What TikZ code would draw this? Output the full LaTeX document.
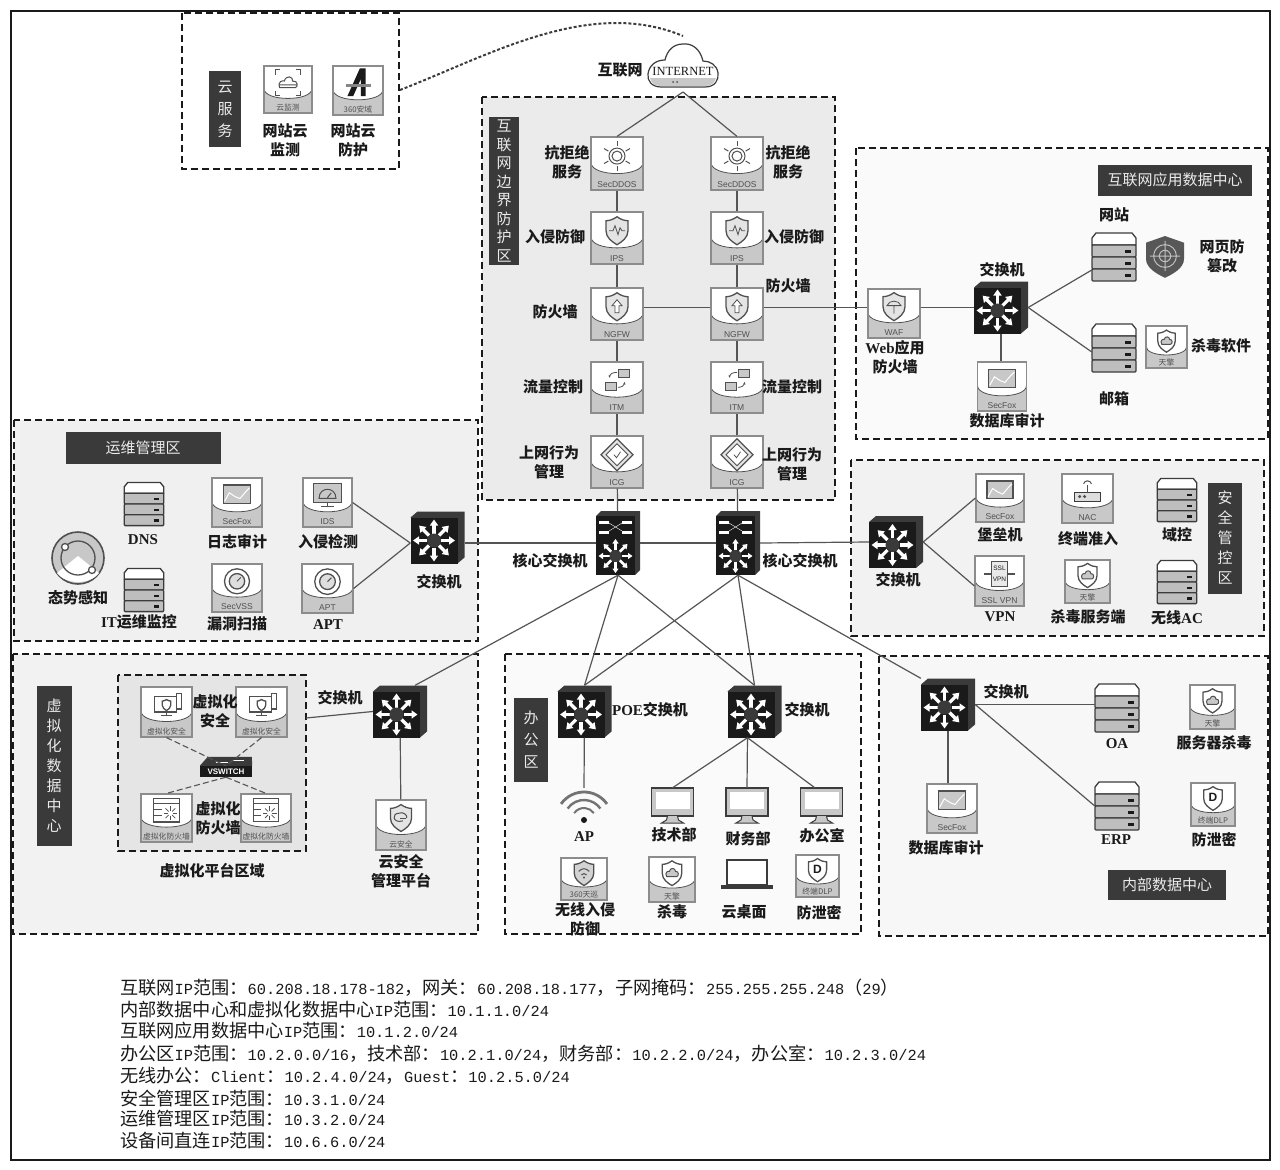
\documentclass[tikz,border=0pt]{standalone}
\usepackage{fontspec}
\usetikzlibrary{arrows.meta, positioning, calc}
\newfontfamily\cjk{Noto Sans CJK SC}
\newfontfamily\latmono{Liberation Mono}
\newfontfamily\latsans{Liberation Sans}
\newfontfamily\latserif{Liberation Serif}
\definecolor{inkblack}{RGB}{26,26,26}
\definecolor{boxdark}{RGB}{58,58,58}
\definecolor{wiregray}{RGB}{85,85,85}
\definecolor{rimgray}{RGB}{140,140,140}
\definecolor{tagfill}{RGB}{200,200,200}
\definecolor{glyphgray}{RGB}{80,80,80}
\definecolor{srvgray}{RGB}{190,190,190}
\newcommand{\ls}[1]{{\latserif\bfseries #1}}
\newcommand{\cj}[1]{{\cjk\fontsize{18.18}{20}\selectfont #1}}
\newcommand{\shieldshape}{(0,-14) .. controls (-4,-11) and (-8,-10) .. (-11,-10) -- (-11,0)
    .. controls (-11,7) and (-5,11) .. (0,14) .. controls (5,11) and (11,7) .. (11,0)
    -- (11,-10) .. controls (8,-10) and (4,-11) .. (0,-14) -- cycle}
\tikzset{
    % dashed area around a group of devices
    zone/.style={draw=inkblack, line width=1.2pt, dash pattern=on 7pt off 4pt},
    % dark title plate of an area
    plate/.style={fill=boxdark, text=white!92!black, inner sep=0pt, align=center,
        font=\cjk\fontsize{15}{#1}\selectfont},
    plate/.default=19,
    % bold device caption
    lab/.style={inner sep=0pt, align=center, text=inkblack,
        font=\cjk\bfseries\fontsize{15}{19}\selectfont},
    % wires between devices
    link/.style={draw=wiregray, line width=1.2pt},
    vlink/.style={draw=wiregray, line width=1.1pt, dash pattern=on 6pt off 3pt},
    glyph/.style={draw=glyphgray, line width=1pt},
    hw/.style={draw=inkblack!85, line width=1.3pt},
    spot/.style={inner sep=0pt},
    tagtext/.style={inner sep=0pt, text=glyphgray, font=\latsans\fontsize{8.5}{9}\selectfont},
    % product badge: white head on a grey foot
    badge/.style={draw=rimgray, line width=1.2pt, fill=tagfill, inner sep=0pt, path picture={
        \coordinate (nw) at (path picture bounding box.north west);
        \coordinate (ne) at (path picture bounding box.north east);
        \coordinate (sw) at (path picture bounding box.south west);
        \coordinate (se) at (path picture bounding box.south east);
        \draw[fill=white, draw=glyphgray, line width=0.8pt] (nw) -- (ne)
            -- ($(se)!0.52!(ne)$) .. controls ($(se)!0.24!(ne)$) and ($(sw)!0.24!(nw)$)
            .. ($(sw)!0.52!(nw)$) -- cycle;}},
    % access switch with bevel and star of arrows
    swbox/.style={inner sep=0pt, minimum width=54pt, minimum height=52pt, path picture={
        \begin{scope}[shift={(path picture bounding box.center)}]
            \fill[boxdark] (-27,-20) -- (-20,-26) -- (27,-26) -- (27,20) -- (20,26) -- cycle;
            \fill[inkblack] (-27,-20) rectangle (20,26);
            \foreach \a in {0,45,...,315}{
                \draw[white, line width=3.2pt, -{Triangle[width=8pt,length=6pt]}]
                    ($(-3.5,3)+(\a:7)$) -- ($(-3.5,3)+(\a:21)$);
            }
            \fill[boxdark] (-3.5,3) circle (7);
        \end{scope}}},
    % core switch, taller with port bars on top
    corebox/.style={inner sep=0pt, minimum width=44pt, minimum height=64pt, path picture={
        \begin{scope}[shift={(path picture bounding box.center)}]
            \fill[boxdark] (-22,-27) -- (-17,-32) -- (22,-32) -- (22,27) -- (17,32) -- cycle;
            \fill[inkblack] (-22,-27) rectangle (17,32);
            \foreach \bx in {-19,4}{ \foreach \by in {-19,-9}{
                \fill[white] (\bx,\by) rectangle ++(10,-3.5);
            }}
            \draw[white, line width=0.4pt] (-9,-20) -- (4,-12) (-9,-12) -- (4,-20);
            \foreach \a in {0,45,...,315}{
                \draw[white, line width=2.6pt, -{Triangle[width=6pt,length=4.5pt]}]
                    ($(-2.5,13)+(\a:6)$) -- ($(-2.5,13)+(\a:17)$);
            }
            \fill[boxdark] (-2.5,13) circle (6);
        \end{scope}}},
    % ---- glyphs inside badges ----
    gearpic/.pic={
        \draw[glyph] (0,0) circle (5) (0,0) circle (8);
        \foreach \a in {0,60,...,300}{ \draw[glyph] ({\a+30}:10) -- ({\a+30}:15); }
    },
    ipspic/.pic={
        \draw[glyph, line width=1.3pt, fill=tagfill!50] \shieldshape;
        \draw[glyph, line width=0.8pt] (-8,0) -- (-4,0) -- (-2,-5) -- (1,4) -- (3,-3) -- (5,0) -- (8,0);
    },
    ngfwpic/.pic={
        \draw[glyph, line width=1.3pt, fill=tagfill!50] \shieldshape;
        \draw[glyph, line width=0.8pt, fill=white] (0,-7) -- (5,-1) -- (2,-1) -- (2,6) -- (-2,6) -- (-2,-1) -- (-5,-1) -- cycle;
    },
    wafpic/.pic={
        \draw[glyph, line width=1.3pt, fill=tagfill!50] \shieldshape;
        \draw[glyph, line width=0.8pt] (-7,-1) .. controls (-5,-7) and (5,-7) .. (7,-1) -- cycle (0,-1) -- (0,7);
    },
    flowpic/.pic={
        \draw[glyph, fill=tagfill] (1,-11) rectangle (12,-3) (-12,2) rectangle (-1,10);
        \draw[glyph, line width=0.8pt, -{Latex[length=3pt]}] (0,-8) .. controls (-5,-8) and (-7,-6) .. (-8,-2);
        \draw[glyph, line width=0.8pt, -{Latex[length=3pt]}] (1,7) .. controls (5,7) and (7,5) .. (8,1);
    },
    icgpic/.pic={
        \draw[glyph, line width=1.3pt, fill=tagfill!50] (0,-16) -- (16,0) -- (0,16) -- (-16,0) -- cycle;
        \draw[glyph, fill=white] (0,-11) -- (11,0) -- (0,11) -- (-11,0) -- cycle;
        \draw[glyph, line width=0.8pt] (-3,0) -- (-0.5,3) -- (3.5,-3);
    },
    chartpic/.pic={
        \draw[glyph, line width=1.3pt, fill=tagfill] (-14,-11) rectangle (14,8);
        \draw[glyph, draw=white, line width=1pt] (-13,6) -- (-8,-3) -- (-2,1) -- (3,3) -- (9,-4) -- (13,-8);
    },
    idspic/.pic={
        \draw[glyph, line width=1.3pt, fill=tagfill] (-15,-13) rectangle (15,7);
        \draw[glyph] (-9,3) .. controls (-9,-10) and (9,-10) .. (9,3) -- cycle (0,2) -- (4,-3);
        \draw[glyph] (0,7) -- (0,12) (-7,12) -- (7,12);
    },
    radarpic/.pic={
        \draw[glyph, line width=1.3pt] (0,0) circle (13);
        \draw[glyph, line width=1.3pt, fill=tagfill!60] (0,0) circle (8);
        \draw[glyph] (0,0) -- (4,-4);
    },
    nacpic/.pic={
        \draw[hw, fill=tagfill!60] (-13,1) rectangle (13,10);
        \draw[glyph, fill=glyphgray] (-8,5) circle (1) (-3,5) circle (1);
        \draw[glyph] (0,1) -- (0,-7);
        \draw[glyph] (-4,-8) .. controls (-3,-12) and (3,-12) .. (4,-8);
    },
    vpnpic/.pic={
        \draw[glyph, fill=tagfill!40] (-9,-13) rectangle (9,13);
        \draw[glyph, line width=1.6pt] (-16,0) -- (-9,0) (9,0) -- (16,0);
        \node[tagtext, text=inkblack, font=\latsans\fontsize{6.5}{7}\selectfont] (sslword) at (0,-6) {SSL};
        \node[tagtext, text=inkblack, font=\latsans\fontsize{6.5}{7}\selectfont] (vpnword) at (0,6) {VPN};
    },
    vsecpic/.pic={
        \draw[glyph, line width=1.3pt] (-12,-9) rectangle (10,7) (10,-12) rectangle (15,4);
        \draw[glyph, line width=1.3pt, scale=0.4] \shieldshape;
        \draw[glyph] (0,7) -- (0,11) (-6,11) -- (6,11);
    },
    vfwpic/.pic={
        \draw[glyph, line width=1.2pt] (-13,-13) rectangle (13,11) (-13,-8) -- (13,-8);
        \draw[glyph, line width=0.7pt] (-13,-2) -- (-5,-2) (-13,4) -- (-5,4);
        \foreach \a in {0,45,...,315}{ \draw[glyph, line width=0.8pt] ($(4,2)+(\a:2.5)$) -- ($(4,2)+(\a:7)$); }
    },
    scanpic/.pic={
        \draw[glyph] (-14,-9) |- (-9,-14) (9,-14) -| (14,-9) (14,9) |- (9,14) (-9,14) -| (-14,9);
        \draw[glyph] (-9,5) .. controls (-12,-2) and (-5,-3) .. (-4,-2) .. controls (-2,-9) and (6,-7) .. (5,-2)
            .. controls (11,-3) and (11,5) .. (8,5) -- cycle (-9,2) -- (10,2);
    },
    apic/.pic={
        \fill[inkblack] (-11,13) -- (2,-16) -- (8,-16) -- (8,13) -- (3,13) -- (3,-5) -- (-5,13) -- cycle;
        \fill[glyphgray!70] (-13,0) -- (14,0) -- (14,4) -- (-13,4) -- cycle;
    },
    cloudshieldpic/.pic={
        \draw[glyph, line width=1.3pt, fill=white] \shieldshape;
        \draw[glyph, fill=tagfill] (-6,4) .. controls (-9,-1) and (-4,-3) .. (-3,-2) .. controls (-2,-7) and (4,-6) .. (4,-2)
            .. controls (8,-3) and (8,4) .. (5,4) -- cycle;
    },
    dlppic/.pic={
        \draw[glyph, line width=1.3pt, fill=white] \shieldshape;
        \node[tagtext, text=inkblack, font=\latsans\bfseries\fontsize{12}{12}\selectfont] (dword) at (0,-1) {D};
    },
    wifishieldpic/.pic={
        \draw[glyph, line width=1.3pt, fill=tagfill!80] \shieldshape;
        \draw[glyph, line width=1pt] (-6,-2) .. controls (-2,-6) and (2,-6) .. (6,-2) (-3,2) .. controls (-1,0) and (1,0) .. (3,2);
        \fill[glyphgray] (0,5) circle (1.3);
    },
    safecloudpic/.pic={
        \draw[glyph, line width=1.3pt, fill=tagfill!50] \shieldshape;
        \draw[glyph] (2,3) .. controls (-9,6) and (-10,-5) .. (-2,-5) .. controls (2,-7) and (7,-3) .. (6,0);
        \draw[glyph] (-1,1) -- (5,1);
    },
    % ---- free standing devices ----
    serverpic/.pic={
        \draw[hw, fill=white] (-22,-12) -- (-22,-19) -- (-18,-24) -- (18,-24) -- (22,-19) -- (22,-12) -- cycle;
        \foreach \ry in {-12,0,12}{
            \draw[hw, fill=srvgray, rounded corners=1pt] (-22,\ry) rectangle (22,\ry+12);
            \fill[inkblack] (11,\ry+5) rectangle (17,\ry+7.5);
        }
    },
    tamperpic/.pic={
        \fill[boxdark!85] (-20,-14) -- (0,-21) -- (20,-14) -- (20,3) .. controls (20,13) and (8,19) .. (0,23)
            .. controls (-8,19) and (-20,13) .. (-20,3) -- cycle;
        \draw[white!75!black, line width=1pt] (0,0) circle (12) (0,0) circle (6) (-16,0) -- (16,0) (0,-16) -- (0,16);
    },
    situpic/.pic={
        \draw[hw, draw=glyphgray, fill=tagfill, line width=1.6pt] (0,0) circle (26);
        \fill[white] (-21,15) -- (0,-2) -- (21,15) .. controls (12,27) and (-12,27) .. (-21,15) -- cycle;
        \draw[hw, draw=glyphgray] (0,0) circle (17);
        \draw[hw, draw=glyphgray, fill=white] (-13,-11) circle (3.5) (14,12) circle (3.5);
    },
    wifipic/.pic={
        \foreach \r/\w in {12/2,20/2.4,28/2.8}{
            \draw[draw=glyphgray!80, line width=\w pt] ($(0,15)+(215:\r)$) arc[start angle=215, end angle=325, radius=\r];
        }
        \fill[inkblack] (0,15) circle (3);
    },
    pcpic/.pic={
        \draw[hw, fill=tagfill] (-21,-18) rectangle (21,10);
        \fill[white] (-17,-14) rectangle (17,3);
        \draw[hw, fill=tagfill, line width=1pt] (-5,10) -- (-6,14) -- (-11,17) -- (11,17) -- (6,14) -- (5,10);
    },
    laptoppic/.pic={
        \draw[hw, line width=2pt, fill=white] (-20,-15) rectangle (20,10);
        \fill[boxdark] (-26,10) rectangle (26,14);
    },
    cloudpic/.pic={
        \draw[hw, fill=white, line width=1.2pt] (-22,21) -- (22,21) .. controls (32,21) and (36,14) .. (35,7)
            .. controls (34,-1) and (27,-5) .. (20,-5) .. controls (17,-18) and (8,-23) .. (0,-22)
            .. controls (-10,-22) and (-16,-15) .. (-18,-6) .. controls (-28,-6) and (-34,0) .. (-35,8)
            .. controls (-36,15) and (-31,21) .. (-22,21) -- cycle;
        \fill[tagfill] (-33,12) -- (33,12) .. controls (31,18) and (28,20) .. (22,20) -- (-22,20)
            .. controls (-28,20) and (-31,18) .. (-33,12) -- cycle;
        \fill[glyphgray] (-10,16) circle (1) (-6,16) circle (1);
    },
}
% a badge: name, centre, width, height, foot text, glyph
\newcommand{\badge}[6]{
    \node[badge, minimum width=#3pt, minimum height=#4pt] (#1) at (#2) {};
    \node[tagtext, above=2.5pt of #1.south] (#1tag) {#5};
    \pic[scale=#3/52] at ($(#1.center)+(0,-0.14*#4)$) {#6};
}
% a device without frame: optional scale, name, centre, width, height, glyph
\newcommand{\device}[6][1]{
    \node[spot, minimum width=#4pt, minimum height=#5pt] (#2) at (#3) {};
    \pic[scale=#1] at (#2.center) {#6};
}
\newcommand{\ctag}[1]{{\cjk\fontsize{7.8}{8}\selectfont #1}}

\begin{document}
\begin{tikzpicture}[x=1pt, y=-1pt]

    \useasboundingbox (0,0) rectangle (1280,1170);
    \fill[white] (0,0) rectangle (1280,1170);
    \draw[inkblack, line width=1.6pt] (11,11) rectangle (1270,1160);

    % ---- areas ----
    \draw[zone] (182,13) rectangle (399,169);
    \draw[zone, fill=black!8] (482,97) rectangle (835,500);
    \draw[zone, fill=black!2] (856,148) rectangle (1268,439);
    \draw[zone, fill=black!6] (14,420) rectangle (478,641);
    \draw[zone, fill=black!5] (851,460) rectangle (1264,636);
    \draw[zone, fill=black!5] (13,654) rectangle (478,934);
    \draw[zone, fill=black!10] (118,675) rectangle (306,851);
    \draw[zone, fill=black!2] (505,654) rectangle (861,934);
    \draw[zone, fill=black!3] (879,656) rectangle (1268,936);

    % ---- area plates ----
    \node[plate=22, minimum width=32pt, minimum height=76pt] (plCloud) at (225,109) {云\\服\\务};
    \node[plate=18.5, minimum width=30pt, minimum height=148pt] (plEdge) at (504,191) {互\\联\\网\\边\\界\\防\\护\\区};
    \node[plate, minimum width=154pt, minimum height=31pt] (plApp) at (1175,180) {互联网应用数据中心};
    \node[plate, minimum width=155pt, minimum height=32pt] (plOps) at (143,448) {运维管理区};
    \node[plate=20, minimum width=34pt, minimum height=111pt] (plSec) at (1225,538) {安\\全\\管\\控\\区};
    \node[plate=20, minimum width=35pt, minimum height=160pt] (plVirt) at (54,766) {虚\\拟\\化\\数\\据\\中\\心};
    \node[plate=22, minimum width=34pt, minimum height=84pt] (plOffice) at (531,740) {办\\公\\区};
    \node[plate, minimum width=118pt, minimum height=30pt] (plInner) at (1167,885) {内部数据中心};

    % ---- cloud services ----
    \badge{cmon}{288,89.5}{48}{47}{\ctag{云监测}}{scanpic}
    \badge{cdef}{358,90.5}{50}{49}{\ctag{360安域}}{apic}
    \node[lab] (lbCmon) at (285,140) {网站云\\监测};
    \node[lab] (lbCdef) at (353,140) {网站云\\防护};

    % ---- internet ----
    \node[spot, minimum width=72pt, minimum height=44pt] (inet) at (683,66) {};
    \pic at (inet.center) {cloudpic};
    \node[spot, font=\latserif\fontsize{12.5}{12}\selectfont, text=inkblack] (inetword) at (683,71) {INTERNET};
    \coordinate (inetTop) at (683,36);
    \coordinate (inetFoot) at (683,92);
    \coordinate (cloudEdge) at (400,90);
    \node[lab] (lbInet) at (620,70) {互联网};
    \draw[inkblack!85, line width=2pt, dash pattern=on 3pt off 2pt] (cloudEdge) .. controls (490,55) and (590,-3) .. (inetTop);

    % ---- border protection, two columns ----
    \foreach \c/\cx in {L/617,R/737}{
        \badge{ddos\c}{\cx,163.5}{52}{53}{SecDDOS}{gearpic}
        \badge{ips\c}{\cx,238}{52}{52}{IPS}{ipspic}
        \badge{ngfw\c}{\cx,314}{52}{52}{NGFW}{ngfwpic}
        \badge{itm\c}{\cx,387.5}{52}{51}{ITM}{flowpic}
        \badge{icg\c}{\cx,462}{52}{52}{ICG}{icgpic}
        \node[corebox] (core\c) at (\cx+1,543) {};
    }
    \foreach \c in {L,R}{
        \draw[link] (inetFoot) -- (ddos\c.north);
        \draw[link] (ddos\c) -- (ips\c);
        \draw[link] (ips\c) -- (ngfw\c);
        \draw[link] (ngfw\c) -- (itm\c);
        \draw[link] (itm\c) -- (icg\c);
        \draw[link] (icg\c) -- (core\c);
    }
    \node[lab] (lbDdosL) at (567,162) {抗拒绝\\服务};
    \node[lab] (lbDdosR) at (788,162) {抗拒绝\\服务};
    \node[lab] (lbIpsL) at (555,237) {入侵防御};
    \node[lab] (lbIpsR) at (794,237) {入侵防御};
    \node[lab] (lbFwL) at (555,312) {防火墙};
    \node[lab] (lbFwR) at (788,286) {防火墙};
    \node[lab] (lbItmL) at (553,387) {流量控制};
    \node[lab] (lbItmR) at (792,387) {流量控制};
    \node[lab] (lbIcgL) at (549,462) {上网行为\\管理};
    \node[lab] (lbIcgR) at (792,464) {上网行为\\管理};
    \node[lab] (lbCoreL) at (550,561) {核心交换机};
    \node[lab] (lbCoreR) at (800,561) {核心交换机};

    % ---- internet application data centre ----
    \badge{waf}{894,313.5}{52}{49}{WAF}{wafpic}
    \node[swbox] (swApp) at (1001,307.5) {};
    \badge{auditApp}{1002,386.5}{49}{49}{SecFox}{chartpic}
    \device{srvWeb}{1114,257}{44}{48}{serverpic}
    \device{srvMail}{1114,348}{44}{48}{serverpic}
    \device[0.95]{tamper}{1165,256}{40}{44}{tamperpic}
    \badge{avApp}{1166.5,347}{41}{42}{\ctag{天擎}}{cloudshieldpic}
    \draw[link] (ngfwL.east |- swApp.west) -- (ngfwR.west |- swApp.west);
    \draw[link] (ngfwR.east |- swApp.west) -- (waf.west |- swApp.west);
    \draw[link] (waf.east |- swApp.west) -- (swApp.west);
    \draw[link] (swApp.south) -- (auditApp.north -| swApp.south);
    \draw[link] (swApp.east) -- (srvWeb.west |- 0,270);
    \draw[link] (swApp.east) -- (srvMail.west |- 0,352);
    \node[lab] (lbWaf) at (895,357) {\ls{Web}应用\\防火墙};
    \node[lab] (lbSwApp) at (1002,270) {交换机};
    \node[lab] (lbAuditApp) at (1007,421) {数据库审计};
    \node[lab] (lbWeb) at (1114,215) {网站};
    \node[lab] (lbMail) at (1114,399) {邮箱};
    \node[lab] (lbTamper) at (1222,256) {网页防\\篡改};
    \node[lab] (lbAvApp) at (1221,346) {杀毒软件};

    % ---- operations area ----
    \device{situ}{78,558}{52}{52}{situpic}
    \device[0.9]{srvDns}{144,504}{40}{43}{serverpic}
    \device[0.9]{srvIt}{144,590}{40}{43}{serverpic}
    \badge{logAudit}{237,502.5}{50}{49}{SecFox}{chartpic}
    \badge{vuln}{237,588}{50}{48}{SecVSS}{radarpic}
    \badge{ids}{327.5,502.5}{49}{49}{IDS}{idspic}
    \badge{apt}{327.5,588.5}{51}{49}{APT}{radarpic}
    \node[swbox] (swOps) at (437.5,537.5) {};
    \draw[link] (ids.east) -- (swOps.west |- coreL.west);
    \draw[link] (apt.east) -- (swOps.west |- coreL.west);
    \draw[link] (swOps.east |- coreL.west) -- (coreL.west);
    \draw[link] (coreL.east) -- (coreR.west);
    \node[lab] (lbSitu) at (78,598) {态势感知};
    \node[lab] (lbDns) at (143,540) {\ls{DNS}};
    \node[lab] (lbIt) at (139,622) {\ls{IT}运维监控};
    \node[lab] (lbLog) at (237,542) {日志审计};
    \node[lab] (lbVuln) at (237,624) {漏洞扫描};
    \node[lab] (lbIds) at (328,542) {入侵检测};
    \node[lab] (lbApt) at (328,625) {\ls{APT}};
    \node[lab] (lbSwOps) at (439,582) {交换机};

    % ---- security area ----
    \node[swbox] (swSec) at (896,542) {};
    \badge{bastion}{1000,498}{48}{48}{SecFox}{chartpic}
    \badge{vpn}{999.5,581}{49}{50}{SSL VPN}{vpnpic}
    \badge{nac}{1087.5,498.5}{51}{49}{NAC}{nacpic}
    \badge{avSrv}{1087.5,581.5}{45}{43}{\ctag{天擎}}{cloudshieldpic}
    \device[0.9]{srvDc}{1177,500}{40}{41}{serverpic}
    \device[0.9]{srvAc}{1177,582}{40}{41}{serverpic}
    \draw[link] (coreR.east) -- (swSec.west);
    \draw[link] (swSec.east) -- (bastion.west);
    \draw[link] (swSec.east) -- (vpn.west |- 0,586);
    \node[lab] (lbSwSec) at (898,580) {交换机};
    \node[lab] (lbBastion) at (1000,535) {堡垒机};
    \node[lab] (lbVpn) at (1000,617) {\ls{VPN}};
    \node[lab] (lbNac) at (1088,539) {终端准入};
    \node[lab] (lbAvSrv) at (1088,617) {杀毒服务端};
    \node[lab] (lbDc) at (1177,535) {域控};
    \node[lab] (lbAc) at (1177,618) {无线\ls{AC}};

    % ---- virtual data centre ----
    \badge{vsecA}{166.5,712}{51}{50}{\ctag{虚拟化安全}}{vsecpic}
    \badge{vsecB}{261.5,712}{51}{50}{\ctag{虚拟化安全}}{vsecpic}
    \badge{vfwA}{166.5,818}{51}{48}{\ctag{虚拟化防火墙}}{vfwpic}
    \badge{vfwB}{266,818}{50}{48}{\ctag{虚拟化防火墙}}{vfwpic}
    \node[fill=inkblack, text=white, inner sep=0pt, minimum width=52pt, minimum height=11pt,
          font=\latsans\bfseries\fontsize{8}{8}\selectfont] (vsw) at (226,771.5) {VSWITCH};
    \fill[boxdark] (vsw.north west) -- ++(8,-9) -- ++(44,0) -- (vsw.north east) -- cycle;
    \draw[white, line width=0.8pt] (216,762) -- (228,762) (232,760) -- (244,760);
    \draw[vlink] (vsecA.south) -- (vsw.north);
    \draw[vlink] (vsecB.south) -- (vsw.north);
    \draw[vlink] (vsw.south) -- (vfwA.north);
    \draw[vlink] (vsw.south) -- (vfwB.north);
    \node[swbox] (swVirt) at (400,711.5) {};
    \badge{csafe}{401,825}{50}{50}{\ctag{云安全}}{safecloudpic}
    \coordinate (platformEdge) at (306,718);
    \draw[link] (platformEdge) -- (swVirt.west);
    \draw[link] (swVirt) -- (csafe);
    \draw[link] (coreL.south) -- (swVirt.60);
    \node[lab] (lbVsec) at (215,711) {虚拟化\\安全};
    \node[lab] (lbVfw) at (218,818) {虚拟化\\防火墙};
    \node[lab] (lbPlatform) at (212,871) {虚拟化平台区域};
    \node[lab] (lbSwVirt) at (340,698) {交换机};
    \node[lab] (lbCsafe) at (401,871) {云安全\\管理平台};

    % ---- office area ----
    \node[swbox] (swPoe) at (584.5,711.5) {};
    \node[swbox] (swOff) at (754.5,711.5) {};
    \device{ap}{584,805}{50}{34}{wifipic}
    \device{pcTech}{672.5,806}{43}{36}{pcpic}
    \device{pcFin}{747,806}{43}{36}{pcpic}
    \device{pcDesk}{821.5,806}{43}{36}{pcpic}
    \badge{wips}{584,879}{46}{42}{\ctag{360天巡}}{wifishieldpic}
    \badge{avOff}{672,879.5}{46}{45}{\ctag{天擎}}{cloudshieldpic}
    \device{laptop}{747,875}{50}{30}{laptoppic}
    \badge{dlpOff}{817.5,876}{43}{42}{\ctag{终端DLP}}{dlppic}
    \draw[link] (coreL.south) -- (swPoe.north);
    \draw[link] (coreR.south) -- (swPoe.north);
    \draw[link] (coreL.south) -- (swOff.north);
    \draw[link] (coreR.south) -- (swOff.north);
    \draw[link] (swPoe) -- (ap.north);
    \draw[link] (swOff.255) -- (pcTech.north);
    \draw[link] (swOff.255) -- (pcFin.north);
    \draw[link] (swOff.255) -- (pcDesk.110);
    \node[lab] (lbPoe) at (650,710) {\ls{POE}交换机};
    \node[lab] (lbSwOff) at (807,710) {交换机};
    \node[lab] (lbAp) at (584,837) {\ls{AP}};
    \node[lab] (lbTech) at (674,835) {技术部};
    \node[lab] (lbFin) at (748,839) {财务部};
    \node[lab] (lbDesk) at (822,836) {办公室};
    \node[lab] (lbWips) at (585,919) {无线入侵\\防御};
    \node[lab] (lbAvOff) at (672,912) {杀毒};
    \node[lab] (lbLaptop) at (744,912) {云桌面};
    \node[lab] (lbDlpOff) at (819,913) {防泄密};

    % ---- internal data centre ----
    \node[swbox] (swIn) at (948,704.5) {};
    \badge{auditIn}{952,808.5}{50}{49}{SecFox}{chartpic}
    \device{srvOa}{1117,708}{44}{48}{serverpic}
    \device{srvErp}{1117,806}{44}{48}{serverpic}
    \badge{avIn}{1212.5,707}{45}{44}{\ctag{天擎}}{cloudshieldpic}
    \badge{dlpIn}{1213,804.5}{44}{43}{\ctag{终端DLP}}{dlppic}
    \draw[link] (coreR.south) -- (swIn.north west);
    \draw[link] (swIn.east) -- (srvOa.west |- swIn.east);
    \draw[link] (swIn.east) -- (srvErp.west);
    \draw[link] (swIn.south) -- (auditIn.north -| swIn.south);
    \node[lab] (lbSwIn) at (1006,692) {交换机};
    \node[lab] (lbAuditIn) at (946,848) {数据库审计};
    \node[lab] (lbOa) at (1117,744) {\ls{OA}};
    \node[lab] (lbErp) at (1116,840) {\ls{ERP}};
    \node[lab] (lbAvIn) at (1214,743) {服务器杀毒};
    \node[lab] (lbDlpIn) at (1214,840) {防泄密};

    % ---- address notes ----
    \tikzset{note/.style={anchor=west, inner sep=0pt, text=inkblack, font=\latmono\fontsize{15.36}{18}\selectfont}}
    \node[note] (noteA) at (120,988) {\cj{互联网}IP\cj{范围：}60.208.18.178-182\cj{，网关：}60.208.18.177\cj{，子网掩码：}255.255.255.248\cj{（}29\cj{）}};
    \node[note] (noteB) at (120,1010) {\cj{内部数据中心和虚拟化数据中心}IP\cj{范围：}10.1.1.0/24};
    \node[note] (noteC) at (120,1031) {\cj{互联网应用数据中心}IP\cj{范围：}10.1.2.0/24};
    \node[note] (noteD) at (120,1054) {\cj{办公区}IP\cj{范围：}10.2.0.0/16\cj{，技术部：}10.2.1.0/24\cj{，财务部：}10.2.2.0/24\cj{，办公室：}10.2.3.0/24};
    \node[note] (noteE) at (120,1076) {\cj{无线办公：}Client\cj{：}10.2.4.0/24\cj{，}Guest\cj{：}10.2.5.0/24};
    \node[note] (noteF) at (120,1098) {\cj{安全管理区}IP\cj{范围：}10.3.1.0/24};
    \node[note] (noteG) at (120,1119) {\cj{运维管理区}IP\cj{范围：}10.3.2.0/24};
    \node[note] (noteH) at (120,1141) {\cj{设备间直连}IP\cj{范围：}10.6.6.0/24};

\end{tikzpicture}
\end{document}
